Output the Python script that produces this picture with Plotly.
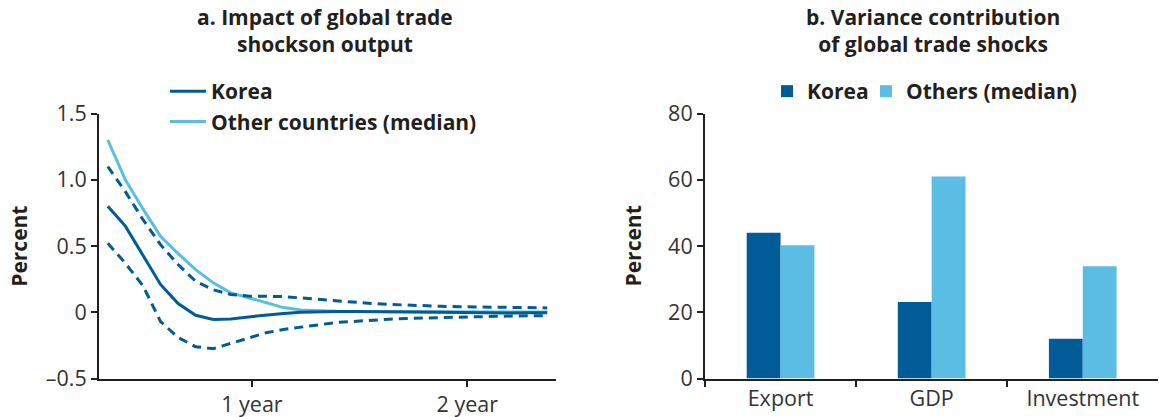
import plotly.graph_objects as go

# ---------------- data ----------------
# panel a: impulse responses (period index along the horizon)
periods = list(range(1, 27))
korea_irf = [0.80, 0.65, 0.43, 0.21, 0.066, -0.023, -0.055, -0.05, -0.035, -0.02,
             -0.01, 0.0, 0.005, 0.005, 0.005, 0.005, 0.005, 0.004, 0.003, 0.0,
             -0.002, -0.004, -0.005, -0.005, -0.004, -0.003]
korea_upper = [1.10, 0.91, 0.70, 0.51, 0.36, 0.234, 0.17, 0.134, 0.122, 0.12,
               0.118, 0.108, 0.097, 0.083, 0.074, 0.066, 0.059, 0.053, 0.049, 0.045,
               0.042, 0.040, 0.038, 0.036, 0.034, 0.033]
korea_lower = [0.52, 0.37, 0.20, -0.07, -0.19, -0.26, -0.275, -0.235, -0.19, -0.155,
               -0.13, -0.11, -0.095, -0.077, -0.068, -0.06, -0.053, -0.047, -0.043, -0.04,
               -0.037, -0.034, -0.031, -0.029, -0.027, -0.025]
others_irf = [1.30, 1.00, 0.78, 0.574, 0.443, 0.322, 0.222, 0.146, 0.11, 0.072,
              0.035, 0.017, 0.01, 0.007, 0.005, 0.004, 0.003, 0.003, 0.002, 0.002,
              0.002, 0.001, 0.001, 0.001, 0.001, 0.001]
year_tick_pos = [9.2, 21.45]
year_tick_text = ["1 year", "2 year"]
irf_tick_vals = [-0.5, 0, 0.5, 1.0, 1.5]
irf_tick_text = ["\u20130.5", "0", "0.5", "1.0", "1.5"]

# panel b: variance contribution
variables = ["Export", "GDP", "Investment"]
korea_share = [44.0, 23.1, 12.0]
others_share = [40.2, 61.0, 33.9]

# ---------------- style ----------------
DARK = "#005b96"
LIGHT = "#5bbde4"
INK = "#231f20"
TICK = "#333333"
FONT = "Open Sans"
W, H = 1159, 417

def px_x(p):
    return p / W

def px_y(p):
    return 1 - p / H

fig = go.Figure()

fig.add_trace(go.Scatter(x=periods, y=others_irf, mode="lines", name="Other countries (median)",
                         line=dict(color=LIGHT, width=3), legend="legend", legendrank=2,
                         legendgroup="o", xaxis="x", yaxis="y"))
fig.add_trace(go.Scatter(x=periods, y=korea_upper, mode="lines", showlegend=False,
                         line=dict(color=DARK, width=3, dash="9px,6px"), xaxis="x", yaxis="y"))
fig.add_trace(go.Scatter(x=periods, y=korea_lower, mode="lines", showlegend=False,
                         line=dict(color=DARK, width=3, dash="9px,6px"), xaxis="x", yaxis="y"))
fig.add_trace(go.Scatter(x=periods, y=korea_irf, mode="lines", name="Korea",
                         line=dict(color=DARK, width=3), legend="legend", legendrank=1,
                         legendgroup="k", xaxis="x", yaxis="y"))

fig.add_trace(go.Bar(x=variables, y=korea_share, name="Korea", marker=dict(color=DARK, line=dict(width=0)),
                     legend="legend2", xaxis="x2", yaxis="y2"))
fig.add_trace(go.Bar(x=variables, y=others_share, name="Others (median)",
                     marker=dict(color=LIGHT, line=dict(width=0)),
                     legend="legend3", xaxis="x2", yaxis="y2"))

ydom = [px_y(378.5), px_y(113.5)]
axis_common = dict(showgrid=False, zeroline=False, showline=True, linecolor=INK, linewidth=2,
                   ticks="outside", ticklen=6, tickwidth=2, tickcolor=INK,
                   tickfont=dict(family=FONT, size=21.5, color=TICK), automargin=False)
legend_font = dict(family=FONT, size=21, color=INK, weight="bold")

fig.update_layout(
    width=W, height=H,
    margin=dict(l=0, r=0, t=0, b=0),
    paper_bgcolor="white", plot_bgcolor="white",
    template="none",
    barmode="group", bargap=0.552, bargroupgap=0,
    hovermode=False,
    xaxis=dict(domain=[px_x(99), px_x(556)], range=[0.5, 26.5], tickmode="array",
               tickvals=year_tick_pos, ticktext=year_tick_text, anchor="y", **axis_common),
    yaxis=dict(domain=ydom, range=[-0.5, 1.5], tickmode="array", tickvals=irf_tick_vals,
               ticktext=irf_tick_text, anchor="x", **axis_common),
    xaxis2=dict(domain=[px_x(705), px_x(1158.3)], type="category", tickson="boundaries",
                anchor="y2", **axis_common),
    yaxis2=dict(domain=ydom, range=[0, 80], tickmode="linear", tick0=0, dtick=20,
                anchor="x2", **axis_common),
    legend=dict(x=px_x(165), y=px_y(71), xanchor="left", yanchor="top",
                orientation="v", bgcolor="rgba(0,0,0,0)", tracegroupgap=0, itemwidth=36,
                font=legend_font),
    legend2=dict(x=px_x(767), y=px_y(71), xanchor="left", yanchor="top",
                 orientation="h", bgcolor="rgba(0,0,0,0)", itemwidth=30, font=legend_font),
    legend3=dict(x=px_x(866), y=px_y(71), xanchor="left", yanchor="top",
                 orientation="h", bgcolor="rgba(0,0,0,0)", itemwidth=30, font=legend_font),
)

title_font = dict(family=FONT, size=21, color=INK, weight="bold")
titles = [
    (325, 31, "a. Impact of global trade<br>shockson output"),
    (932.5, 30, "b. Variance contribution<br>of global trade shocks"),
]
for cx, cy, txt in titles:
    fig.add_annotation(x=px_x(cx), y=px_y(cy), xref="paper", yref="paper", text=txt,
                       showarrow=False, xanchor="center", yanchor="middle", align="center",
                       font=title_font)

for cx in (18.3, 632):
    fig.add_annotation(x=px_x(cx), y=px_y(246.5), xref="paper", yref="paper", text="Percent",
                       showarrow=False, textangle=-90, xanchor="center", yanchor="middle",
                       font=dict(family=FONT, size=21, color=INK, weight="bold"))

fig.write_html("out.html", config={"displayModeBar": False},
               post_script="document.body.style.margin='0';document.body.style.padding='0';")
